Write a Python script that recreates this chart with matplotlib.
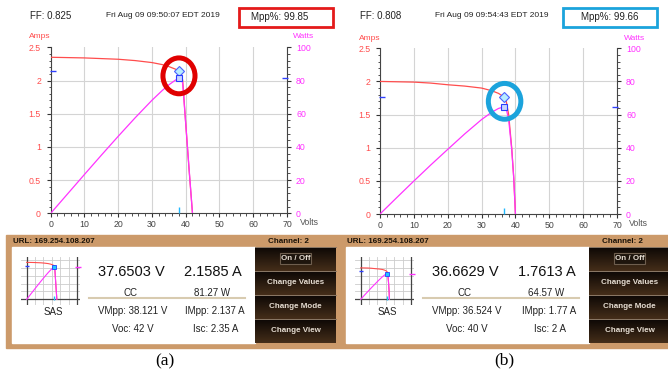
import matplotlib.pyplot as plt
import numpy as np
from matplotlib.patches import Rectangle, Ellipse

plt.rcParams['font.family'] = ['Liberation Sans', 'DejaVu Sans']

# I-V / P-V readings, panel (a)
volts_a = [0, 5, 10, 15, 20, 25, 30, 33, 35, 37, 38.1, 38.7, 39.1, 40, 41, 42]
amps_a = [2.35, 2.345, 2.34, 2.33, 2.32, 2.30, 2.27, 2.24, 2.21, 2.17, 2.137, 2.1, 2.0, 1.35, 0.65, 0]
watts_a = [0, 11.7, 23.4, 35.0, 46.4, 57.5, 68.1, 73.9, 77.4, 80.3, 81.3, 81.3, 78.2, 54.0, 26.7, 0]

# panel (b)
volts_b = [0, 5, 10, 15, 20, 25, 30, 33, 35, 36.5, 37.3, 38, 38.9, 39.5, 40]
amps_b = [2.0, 1.995, 1.99, 1.975, 1.95, 1.93, 1.9, 1.86, 1.82, 1.77, 1.7, 1.5, 1.0, 0.55, 0]
watts_b = [0, 10.0, 19.9, 29.6, 39.0, 48.3, 57.0, 61.4, 63.7, 64.6, 63.4, 57.0, 38.9, 21.7, 0]

vmpp = [38.121, 36.524]
impp = [2.137, 1.77]
pmpp = [81.27, 64.57]

ff = ['0.825', '0.808']
stamps = ['Fri Aug 09 09:50:07 EDT 2019', 'Fri Aug 09 09:54:43 EDT 2019']
mpp_pct = ['99.85', '99.66']
set_v = ['37.6503 V', '36.6629 V']
set_a = ['2.1585 A', '1.7613 A']
power_w = ['81.27 W', '64.57 W']
voc = ['42 V', '40 V']
isc = ['2.35 A', '2 A']
vmpp_txt = ['38.121 V', '36.524 V']
impp_txt = ['2.137 A', '1.77 A']
buttons = ['On / Off', 'Change Values', 'Change Mode', 'Change View']
captions = ['(a)', '(b)']

amp_ticks = [0, 0.5, 1, 1.5, 2, 2.5]
amp_labels = ['0', '0.5', '1', '1.5', '2', '2.5']
watt_ticks = [0, 20, 40, 60, 80, 100]
volt_ticks = [0, 10, 20, 30, 40, 50, 60, 70]

RED = '#ff4d4d'
MAG = '#ff33ff'
TAN = '#cc9a6a'
W, H = 668, 376

fig = plt.figure(figsize=(6.68, 3.76), dpi=100)
bg = fig.add_axes([0, 0, 1, 1])
bg.axis('off')


def px_axes(x0, y0, x1, y1):
    return fig.add_axes([x0 / W, 1 - y1 / H, (x1 - x0) / W, (y1 - y0) / H])


def chart(x0, x1, y0, y1, volts, amps, watts, k, ring, ring_color):
    ax = px_axes(x0, y0, x1, y1)
    ax2 = ax.twinx()
    ax.patch.set_visible(False)
    ax.plot(volts, amps, color=RED, lw=0.9, zorder=3)
    ax2.plot(volts, watts, color=MAG, lw=0.9, zorder=3)

    ax.plot(vmpp[k], impp[k], marker='D', ms=5, mfc='#b8ecff', mec='#4a60ff', mew=0.8, zorder=4)
    ax2.plot(vmpp[k], pmpp[k], marker='s', ms=5, mfc='#c8d4ff', mec='#2a3cff', mew=0.8, zorder=4)
    ax.plot(0.6, impp[k], marker='_', ms=5, mew=1, color='#3040ff', clip_on=False, zorder=4)
    ax2.plot(69.3, pmpp[k], marker='_', ms=4.5, mew=1, color='#3040ff', clip_on=False, zorder=4)
    ax.plot(vmpp[k], 0.05, marker='|', ms=5, mew=1, color='#20b8ff', clip_on=False, zorder=4)

    ax2.add_patch(Ellipse(ring[:2], ring[2], ring[3], transform=ax.transData, fill=False,
                          ec=ring_color, lw=3.6, clip_on=False, zorder=6))

    ax.set_xlim(0, 70)
    ax.set_ylim(0, 2.5)
    ax2.set_ylim(0, 100)
    ax.set_xticks(volt_ticks)
    ax.set_xticks(np.arange(0, 71, 2), minor=True)
    ax.set_yticks(amp_ticks, amp_labels)
    ax.set_yticks(np.arange(0, 2.51, 0.1), minor=True)
    ax2.set_yticks(watt_ticks)
    ax2.set_yticks(np.arange(0, 101, 4), minor=True)

    ax.grid(axis='x', color='#d4d4d4', lw=0.8, zorder=0)
    for a in amp_ticks[1:-1]:
        ax.axhline(a, color='#d4d4d4', lw=0.8, zorder=0)

    ax.tick_params(axis='y', which='major', length=3, width=0.8, color='#333',
                   labelcolor=RED, labelsize=6.3, pad=4)
    ax.tick_params(axis='y', which='minor', length=1.8, width=0.6, color='#333')
    ax.tick_params(axis='x', which='major', length=3, width=0.8, color='#333',
                   labelcolor='#444', labelsize=6.3, pad=2)
    ax.tick_params(axis='x', which='minor', length=1.8, width=0.6, color='#333')
    ax2.tick_params(axis='y', which='major', length=3, width=0.8, color='#333',
                    labelcolor=MAG, labelsize=6.3, pad=3.5)
    ax2.tick_params(axis='y', which='minor', length=1.8, width=0.6, color='#333')

    for s in ['top', 'right']:
        ax.spines[s].set_visible(False)
    for s in ['top', 'left', 'bottom']:
        ax2.spines[s].set_visible(False)
    for s in ['left', 'bottom']:
        ax.spines[s].set_color('#444')
        ax.spines[s].set_linewidth(0.8)
    ax2.spines['right'].set_color('#444')
    ax2.spines['right'].set_linewidth(0.8)


def thumb(off, volts, amps, watts, k):
    t = px_axes(21 + off, 257, 80 + off, 305)
    t.set_xlim(-7.9, 74.2)
    t.set_ylim(-0.36, 2.69)
    t.set_xticks(np.linspace(0, 70, 7))
    t.set_yticks(amp_ticks)
    t.grid(color='#cccccc', lw=0.6)
    t.tick_params(length=0, labelbottom=False, labelleft=False)
    for s in t.spines.values():
        s.set_visible(False)
    t.patch.set_visible(False)
    t.axvline(0, color='#444', lw=0.9)
    t.axvline(70, color='#444', lw=0.9)
    t.axhline(0, color='#444', lw=0.9)
    t.plot(volts, amps, color=RED, lw=0.8)
    t.plot(0, impp[k], marker='_', ms=3, mew=1, color='#3040ff', clip_on=False)
    t.plot(vmpp[k], 0.1, marker='|', ms=3, mew=1, color='#20b8ff')
    t2 = t.twinx()
    t2.set_ylim(-14.4, 107.6)
    t2.axis('off')
    t2.plot(volts, watts, color=MAG, lw=0.8)
    t2.plot(vmpp[k], pmpp[k], marker='s', ms=3.5, mfc='#20c8ff', mec='#2040ff', mew=0.6)
    t2.plot(72, pmpp[k], marker='_', ms=4, mew=1, color=MAG, clip_on=False)


# top charts
chart(50.7, 287, 47.3, 213.3, volts_a, amps_a, watts_a, 0, (38.0, 2.07, 9.5, 0.54), '#e00000')
chart(380, 617, 48.3, 214, volts_b, amps_b, watts_b, 1, (36.8, 1.70, 9.6, 0.54), '#1ba3dc')

# headers and axis titles
tops = [dict(ff=30, date=163, box=(239, 333), mpp=280, col='#e41a1a',
             amps=40, watts=304, volts=(309, 222.7), ty=37),
        dict(ff=360, date=492, box=(563, 657), mpp=610, col='#1ba3dc',
             amps=370, watts=635, volts=(638.5, 224), ty=38.3)]
for k, p in enumerate(tops):
    bg.text(p['ff'], 15.7, 'FF: ' + ff[k], fontsize=7, color='#222', va='center')
    bg.text(p['date'], 15.7, stamps[k], fontsize=6, color='#222', ha='center', va='center')
    x0, x1 = p['box']
    bg.add_patch(Rectangle((x0, 8), x1 - x0, 19, fill=False, ec=p['col'], lw=2))
    bg.text(p['mpp'], 16.5, 'Mpp%: ' + mpp_pct[k], fontsize=7, color='#222', ha='center', va='center')
    bg.text(p['amps'], p['ty'], 'Amps', fontsize=6, color=RED, ha='center', va='center')
    bg.text(p['watts'], p['ty'], 'Watts', fontsize=6, color=MAG, ha='center', va='center')
    bg.text(p['volts'][0], p['volts'][1], 'Volts', fontsize=6.3, color='#555', ha='center', va='center')

# instrument panels
bg.add_patch(Rectangle((6, 235), 662, 113, color=TAN, zorder=0))
grad = np.linspace(0, 1, 40)[:, None, None]
top_c = np.array([0.05, 0.03, 0.02])
bot_c = np.array([0.27, 0.18, 0.10])
btn_img = top_c * (1 - grad) + bot_c * grad
btn_edges = [247, 271, 295, 319, 343]

for k, off in enumerate([0, 334]):
    bg.add_patch(Rectangle((12 + off, 247), 243, 96, color='white', zorder=1))
    bg.text(13 + off, 241.5, 'URL: 169.254.108.207', fontsize=5.8, weight='bold',
            color='#1a1208', va='center')
    bg.text(288 + off, 241.5, 'Channel: 2', fontsize=5.8, weight='bold',
            color='#1a1208', ha='center', va='center')
    bg.text(53 + off, 312, 'SAS', fontsize=7, color='#222', ha='center', va='center', zorder=2)
    bg.text(131 + off, 272, set_v[k], fontsize=10.5, color='#111', ha='center', va='center', zorder=2)
    bg.text(213 + off, 272, set_a[k], fontsize=10.5, color='#111', ha='center', va='center', zorder=2)
    bg.text(130 + off, 293, 'CC', fontsize=7, color='#222', ha='center', va='center', zorder=2)
    bg.text(212 + off, 293, power_w[k], fontsize=7, color='#222', ha='center', va='center', zorder=2)
    bg.plot([89 + off, 245 + off], [297.5, 297.5], color='#d8cbb0', lw=1.5, zorder=2)
    bg.text(133 + off, 311, 'VMpp: ' + vmpp_txt[k], fontsize=7, color='#222', ha='center', va='center', zorder=2)
    bg.text(215 + off, 311, 'IMpp: ' + impp_txt[k], fontsize=7, color='#222', ha='center', va='center', zorder=2)
    bg.text(133 + off, 329.3, 'Voc: ' + voc[k], fontsize=7, color='#222', ha='center', va='center', zorder=2)
    bg.text(216 + off, 329.3, 'Isc: ' + isc[k], fontsize=7, color='#222', ha='center', va='center', zorder=2)

    bx0, bx1 = 255 + off, 336 + off
    for i, label in enumerate(buttons):
        y0, y1 = btn_edges[i], btn_edges[i + 1]
        bg.imshow(btn_img, extent=(bx0, bx1, y1, y0), aspect='auto', zorder=1)
        bg.plot([bx0, bx1], [y0, y0], color='#8c7a68', lw=0.7, zorder=2)
        bg.text((bx0 + bx1) / 2, (y0 + y1) / 2, label, fontsize=5.8, weight='bold',
                color='#e6ddd2', ha='center', va='center', zorder=3)
    bg.add_patch(Rectangle((280 + off, 253), 31, 11, fill=True, fc='#1e150d',
                           ec='#6e5e4e', lw=0.8, zorder=2))

    thumb(off, [volts_a, volts_b][k], [amps_a, amps_b][k], [watts_a, watts_b][k], k)

bg.text(165, 361, captions[0], fontsize=12.5, family='Liberation Serif', ha='center', va='center')
bg.text(504, 360, captions[1], fontsize=12.5, family='Liberation Serif', ha='center', va='center')

bg.set_xlim(0, W)
bg.set_ylim(H, 0)

fig.savefig('out.png', dpi=100)
